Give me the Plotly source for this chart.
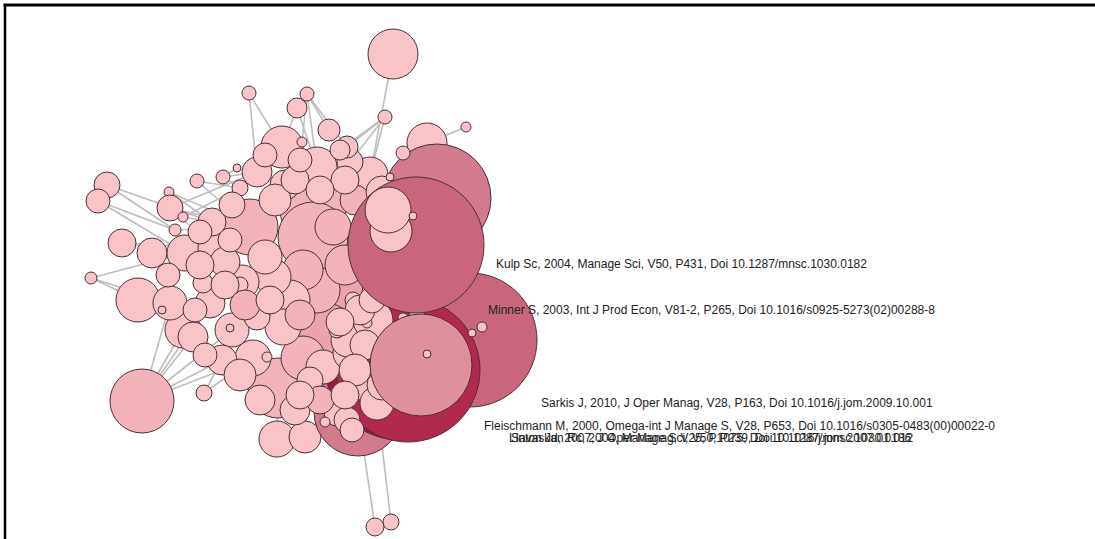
import plotly.graph_objects as go

# ---- node data (pixel-space layout) ----
node_x = [393, 249, 307, 297, 385, 466, 107, 98, 197, 223, 91, 122, 152, 138, 142, 204, 375, 391, 169, 170, 175, 183, 277, 305,
          427, 437, 358, 400, 470, 408, 335, 325,
          313, 313, 250, 278, 303, 317, 303, 290, 282, 317, 370, 333, 283, 273, 265, 253, 183, 185, 170, 232, 242, 215,
          323, 350, 363, 377, 348, 373, 257, 225, 210, 193, 222, 257, 310, 337, 347, 350, 329, 347, 340, 203, 240, 240,
          353, 337, 285, 345, 212, 355, 302, 237, 230, 162, 267, 367, 325, 403, 417, 382,
          200, 232, 200, 168, 225, 195, 245, 205, 240, 260, 295, 320, 270, 300, 230, 275, 295, 345, 320, 300,
          265, 300, 360, 340, 365, 355, 345, 382, 352, 372,
          416, 391, 388, 390, 403, 413, 421, 427, 472, 482]
node_y = [54, 93, 94, 108, 117, 127, 185, 201, 181, 177, 278, 243, 253, 300, 401, 393, 527, 522, 192, 208, 230, 217, 439, 437,
          143, 198, 412, 365, 340, 370, 285, 335,
          210, 237, 227, 388, 358, 290, 270, 300, 147, 167, 175, 227, 327, 277, 257, 358, 330, 253, 303, 330, 282, 248,
          367, 353, 383, 403, 340, 320, 172, 262, 303, 337, 360, 317, 380, 413, 420, 162, 130, 147, 150, 283, 285, 188,
          300, 330, 185, 265, 222, 200, 142, 168, 328, 310, 357, 323, 422, 318, 317, 192,
          232, 205, 265, 275, 285, 310, 305, 355, 375, 400, 410, 400, 300, 315, 240, 200, 180, 180, 190, 395,
          155, 160, 310, 322, 345, 370, 395, 385, 430, 300,
          245, 231, 210, 177, 153, 216, 365, 354, 333, 327]
node_r = [25, 7, 7, 10, 7, 5, 13, 12, 7, 7, 6, 14, 15, 22, 32, 8, 9, 8, 5, 13, 6, 5, 18, 16,
          20, 54, 44, 75, 67, 72, 28, 32,
          33, 35, 28, 30, 22, 23, 20, 20, 21, 20, 18, 18, 18, 18, 17, 18, 18, 18, 17, 17, 17, 17,
          17, 17, 17, 17, 17, 20, 15, 15, 15, 15, 15, 13, 13, 13, 13, 13, 11, 11, 10, 10, 8, 8,
          8, 8, 15, 20, 14, 15, 5, 4, 4, 4, 5, 5, 5, 5, 8, 16,
          12, 13, 14, 12, 14, 12, 15, 12, 16, 15, 15, 14, 14, 15, 12, 16, 14, 14, 14, 14,
          12, 12, 15, 14, 15, 16, 14, 15, 12, 13,
          68, 21, 23, 4, 7, 4, 51, 4, 4, 5]
node_tone = [0, 0, 0, 0, 0, 0, 0, 0, 0, 0, 0, 0, 0, 0, 1, 0, 0, 0, 0, 0, 0, 0, 0, 0,
             0, 4, 4, 7, 5, 6, 2, 2,
             1, 1, 1, 1, 1, 1, 1, 0, 0, 0, 0, 1, 0, 0, 0, 0, 0, 0, 0, 0, 0, 0,
             0, 0, 0, 0, 0, 0, 0, 0, 0, 0, 0, 0, 0, 0, 0, 0, 0, 0, 0, 0, 0, 0,
             0, 0, 0, 1, 0, 1, 0, 0, 0, 0, 0, 0, 0, 0, 0, 0,
             0, 0, 0, 0, 0, 0, 1, 0, 0, 0, 0, 1, 0, 1, 0, 0, 0, 0, 0, 0,
             0, 0, 0, 0, 0, 0, 0, 0, 0, 0,
             5, 0, 0, 0, 0, 0, 3, 0, 0, 0]

tone_colors = ['#f9c3c8', '#f4b3ba', '#eca3ad', '#e0909d', '#d27b8f', '#c9667e', '#b2294f', '#9c1a42']

# ---- edges (index pairs into node arrays) ----
edge_src = [0, 1, 1, 2, 2, 2, 2, 3, 3, 4, 4, 4, 4, 5, 6, 6, 7, 7, 8, 8, 9, 9, 9, 10, 10, 11, 11, 12, 12, 13, 13,
            14, 14, 14, 14, 14, 14, 14, 15, 15, 16, 17, 18, 18, 19, 19, 19, 20, 21, 21, 22, 23, 10]
edge_dst = [42, 40, 60, 70, 71, 41, 82, 41, 40, 69, 42, 71, 72, 24, 20, 80, 20, 49, 34, 75, 60, 75, 83, 49, 13, 49, 53, 49, 53, 62, 50,
            48, 63, 64, 47, 51, 50, 62, 64, 47, 26, 57, 34, 80, 34, 60, 53, 34, 75, 80, 35, 66, 50]

# ---- labels for the most cited nodes ----
label_text = [
    "Kulp Sc, 2004, Manage Sci, V50, P431, Doi 10.1287/mnsc.1030.0182",
    "Minner S, 2003, Int J Prod Econ, V81-2, P265, Doi 10.1016/s0925-5273(02)00288-8",
    "Sarkis J, 2010, J Oper Manag, V28, P163, Doi 10.1016/j.jom.2009.10.001",
    "Fleischmann M, 2000, Omega-int J Manage S, V28, P653, Doi 10.1016/s0305-0483(00)00022-0",
    "Savaskan Rc, 2004, Manage Sci, V50, P239, Doi 10.1287/mnsc.1030.0186",
    "Linton Jd, 2007, J Oper Manag, V25, P1075, Doi 10.1016/j.jom.2007.01.012",
]
label_x = [494, 486, 539, 482, 509, 507]
label_y = [264, 310, 403, 426, 438, 438]

# ---- build figure ----
ex, ey = [], []
for s, d in zip(edge_src, edge_dst):
    ex += [node_x[s], node_x[d], None]
    ey += [node_y[s], node_y[d], None]

fig = go.Figure()
fig.add_trace(go.Scatter(x=ex, y=ey, mode='lines',
                         line=dict(color='#bdbdbd', width=1.6),
                         hoverinfo='skip'))

# nodes drawn in list order, in consecutive chunks (each chunk is one trace)
n = len(node_x)
step = 40
for a in range(0, n, step):
    b = min(a + step, n)
    fig.add_trace(go.Scatter(
        x=node_x[a:b], y=node_y[a:b], mode='markers',
        marker=dict(size=[2 * r for r in node_r[a:b]],
                    color=[tone_colors[t] for t in node_tone[a:b]],
                    line=dict(color='#4a3035', width=1),
                    opacity=1),
        cliponaxis=False,
        hoverinfo='skip'))

for t, x, y in zip(label_text, label_x, label_y):
    fig.add_annotation(x=x, y=y, text=t, showarrow=False, xanchor='left', yanchor='middle',
                       font=dict(family='Liberation Sans, Arial, sans-serif', size=12, color='#222222'))

fig.add_shape(type='line', x0=3.5, y0=5, x1=1095, y1=5, line=dict(color='black', width=3))
fig.add_shape(type='line', x0=5, y0=4, x1=5, y1=539, line=dict(color='black', width=2.5))

fig.update_layout(
    width=1095, height=539,
    margin=dict(l=0, r=0, t=0, b=0),
    paper_bgcolor='white', plot_bgcolor='white',
    showlegend=False, hovermode=False,
    xaxis=dict(range=[0, 1095], visible=False, fixedrange=True),
    yaxis=dict(range=[539, 0], visible=False, fixedrange=True),
)

fig.write_html("out.html", config={'displayModeBar': False},
               post_script="document.body.style.margin='0px';document.body.style.overflow='hidden';")
